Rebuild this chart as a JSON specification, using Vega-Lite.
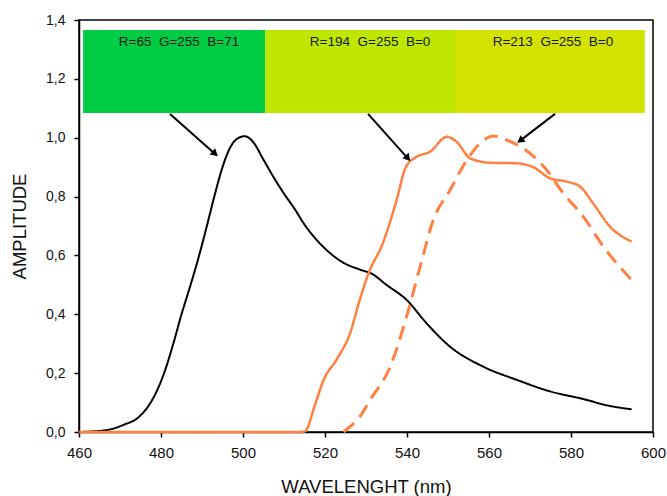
{
  "$schema": "https://vega.github.io/schema/vega-lite/v6.json",
  "width": 574,
  "height": 412,
  "autosize": "none",
  "padding": {"left": 79, "top": 20, "right": 14, "bottom": 64},
  "background": "white",
  "config": {
    "view": {"stroke": "black", "strokeWidth": 1.5},
    "font": "Liberation Sans",
    "axis": {
      "grid": false,
      "domainColor": "black",
      "domainWidth": 1.5,
      "tickColor": "black",
      "tickWidth": 1.5,
      "tickSize": 5,
      "labelFont": "Liberation Sans",
      "labelFontSize": 14,
      "labelColor": "#111",
      "labelFlush": false,
      "labelOverlap": false,
      "titleFont": "Liberation Sans",
      "titleFontSize": 18.5,
      "titleFontWeight": "normal",
      "titleColor": "#111"
    }
  },
  "datasets": {
    "curves": [
      {"s": "black", "x": 460, "y": 0},
      {"s": "black", "x": 466.5, "y": 0.006},
      {"s": "black", "x": 471, "y": 0.025},
      {"s": "black", "x": 474.5, "y": 0.05},
      {"s": "black", "x": 477, "y": 0.09},
      {"s": "black", "x": 479, "y": 0.14},
      {"s": "black", "x": 481, "y": 0.21},
      {"s": "black", "x": 483, "y": 0.3},
      {"s": "black", "x": 485, "y": 0.4},
      {"s": "black", "x": 487, "y": 0.49},
      {"s": "black", "x": 489, "y": 0.585},
      {"s": "black", "x": 491, "y": 0.69},
      {"s": "black", "x": 493, "y": 0.8},
      {"s": "black", "x": 495, "y": 0.9},
      {"s": "black", "x": 497, "y": 0.97},
      {"s": "black", "x": 499, "y": 1.0},
      {"s": "black", "x": 500.5, "y": 1.005},
      {"s": "black", "x": 502.5, "y": 0.985},
      {"s": "black", "x": 505, "y": 0.925},
      {"s": "black", "x": 507.5, "y": 0.865},
      {"s": "black", "x": 510, "y": 0.81},
      {"s": "black", "x": 512.5, "y": 0.76},
      {"s": "black", "x": 515, "y": 0.705},
      {"s": "black", "x": 517.5, "y": 0.66},
      {"s": "black", "x": 520.5, "y": 0.617},
      {"s": "black", "x": 524.5, "y": 0.575},
      {"s": "black", "x": 528.5, "y": 0.552},
      {"s": "black", "x": 531.5, "y": 0.537},
      {"s": "black", "x": 535, "y": 0.5},
      {"s": "black", "x": 539.9, "y": 0.449},
      {"s": "black", "x": 544.8, "y": 0.369},
      {"s": "black", "x": 550.5, "y": 0.29},
      {"s": "black", "x": 558.6, "y": 0.222},
      {"s": "black", "x": 566.8, "y": 0.177},
      {"s": "black", "x": 574.9, "y": 0.138},
      {"s": "black", "x": 583.0, "y": 0.112},
      {"s": "black", "x": 589, "y": 0.09},
      {"s": "black", "x": 594.8, "y": 0.077},
      {"s": "solid", "x": 460, "y": 0},
      {"s": "solid", "x": 480, "y": 0},
      {"s": "solid", "x": 500, "y": 0},
      {"s": "solid", "x": 510, "y": 0},
      {"s": "solid", "x": 513.5, "y": 0},
      {"s": "solid", "x": 515.1, "y": 0.002},
      {"s": "solid", "x": 517.5, "y": 0.09},
      {"s": "solid", "x": 519.6, "y": 0.175},
      {"s": "solid", "x": 522.9, "y": 0.248},
      {"s": "solid", "x": 526.1, "y": 0.335},
      {"s": "solid", "x": 528.5, "y": 0.45},
      {"s": "solid", "x": 530.5, "y": 0.535},
      {"s": "solid", "x": 534.2, "y": 0.645},
      {"s": "solid", "x": 537.5, "y": 0.79},
      {"s": "solid", "x": 539.7, "y": 0.9},
      {"s": "solid", "x": 542.3, "y": 0.935},
      {"s": "solid", "x": 545.6, "y": 0.952},
      {"s": "solid", "x": 549.7, "y": 1.003},
      {"s": "solid", "x": 552.1, "y": 0.986},
      {"s": "solid", "x": 555.4, "y": 0.93},
      {"s": "solid", "x": 560.2, "y": 0.915},
      {"s": "solid", "x": 566.8, "y": 0.913},
      {"s": "solid", "x": 570.8, "y": 0.9},
      {"s": "solid", "x": 574.9, "y": 0.862},
      {"s": "solid", "x": 578.9, "y": 0.851},
      {"s": "solid", "x": 582.2, "y": 0.834},
      {"s": "solid", "x": 585.4, "y": 0.777},
      {"s": "solid", "x": 589.5, "y": 0.698},
      {"s": "solid", "x": 594.8, "y": 0.647},
      {"s": "dashed", "x": 524.5, "y": 0},
      {"s": "dashed", "x": 526.1, "y": 0.018},
      {"s": "dashed", "x": 528.5, "y": 0.052},
      {"s": "dashed", "x": 531.0, "y": 0.109},
      {"s": "dashed", "x": 535.9, "y": 0.222},
      {"s": "dashed", "x": 539.9, "y": 0.392},
      {"s": "dashed", "x": 543.2, "y": 0.562},
      {"s": "dashed", "x": 546.4, "y": 0.72},
      {"s": "dashed", "x": 550.5, "y": 0.822},
      {"s": "dashed", "x": 554.6, "y": 0.924},
      {"s": "dashed", "x": 557.8, "y": 0.981},
      {"s": "dashed", "x": 561.1, "y": 1.006},
      {"s": "dashed", "x": 564.3, "y": 0.992},
      {"s": "dashed", "x": 570.0, "y": 0.947},
      {"s": "dashed", "x": 574.1, "y": 0.89},
      {"s": "dashed", "x": 578.1, "y": 0.811},
      {"s": "dashed", "x": 583.0, "y": 0.732},
      {"s": "dashed", "x": 587.9, "y": 0.63},
      {"s": "dashed", "x": 594.8, "y": 0.516}
    ],
    "boxes": [
      {"b": "g1", "x": 461, "x2": 505.4, "y": 1.084, "y2": 1.366, "tx": 484.4, "ty": 1.325, "label": "R=65\u00a0\u00a0G=255\u00a0\u00a0B=71"},
      {"b": "g2", "x": 505.4, "x2": 551.7, "y": 1.084, "y2": 1.366, "tx": 531.0, "ty": 1.325, "label": "R=194\u00a0\u00a0G=255\u00a0\u00a0B=0"},
      {"b": "g3", "x": 551.7, "x2": 598, "y": 1.084, "y2": 1.366, "tx": 575.6, "ty": 1.325, "label": "R=213\u00a0\u00a0G=255\u00a0\u00a0B=0"}
    ],
    "arrows": [
      {"x": 482.2, "y": 1.081, "x2": 493.2, "y2": 0.945, "a": 131.6},
      {"x": 530.5, "y": 1.081, "x2": 540.2, "y2": 0.93, "a": 139.2},
      {"x": 576.1, "y": 1.081, "x2": 567.6, "y2": 0.99, "a": 232.4}
    ]
  },
  "layer": [
    {
      "data": {"name": "boxes"},
      "mark": {"type": "rect"},
      "encoding": {
        "x": {"field": "x", "type": "quantitative", "scale": {"domain": [460, 600], "nice": false}, "axis": {"values": [460, 480, 500, 520, 540, 560, 580, 600], "title": "WAVELENGHT (nm)", "labelPadding": 8, "labelFontSize": 15, "titlePadding": 17}},
        "x2": {"field": "x2"},
        "y": {"field": "y", "type": "quantitative", "scale": {"domain": [0, 1.4], "nice": false}, "axis": {"values": [0, 0.2, 0.4, 0.6, 0.8, 1.0, 1.2, 1.4], "labelExpr": "replace(format(datum.value, '.1f'), '.', ',')", "title": "AMPLITUDE", "labelPadding": 9, "titlePadding": 16}},
        "y2": {"field": "y2"},
        "fill": {"field": "b", "type": "nominal", "scale": {"domain": ["g1", "g2", "g3"], "range": ["#00CC44", "#BEE600", "#D4E200"]}, "legend": null}
      }
    },
    {
      "data": {"name": "boxes"},
      "mark": {"type": "text", "fontSize": 13.5, "font": "Liberation Sans", "color": "#1a1a1a", "align": "center", "baseline": "middle"},
      "encoding": {
        "x": {"field": "tx", "type": "quantitative"},
        "y": {"field": "ty", "type": "quantitative"},
        "text": {"field": "label"}
      }
    },
    {
      "data": {"name": "curves"},
      "mark": {"type": "line", "interpolate": "monotone"},
      "encoding": {
        "x": {"field": "x", "type": "quantitative"},
        "y": {"field": "y", "type": "quantitative"},
        "detail": {"field": "s"},
        "stroke": {"field": "s", "type": "nominal", "scale": {"domain": ["black", "solid", "dashed"], "range": ["#000000", "#FF8040", "#FF8040"]}, "legend": null},
        "strokeWidth": {"field": "s", "type": "nominal", "scale": {"domain": ["black", "solid", "dashed"], "range": [2, 3, 2.5]}, "legend": null},
        "strokeDash": {"field": "s", "type": "nominal", "scale": {"domain": ["black", "solid", "dashed"], "range": [[1, 0], [1, 0], [14, 8]]}, "legend": null},
        "order": {"field": "x", "type": "quantitative"}
      }
    },
    {
      "data": {"name": "arrows"},
      "mark": {"type": "rule", "color": "black", "strokeWidth": 2},
      "encoding": {
        "x": {"field": "x", "type": "quantitative"},
        "y": {"field": "y", "type": "quantitative"},
        "x2": {"field": "x2"},
        "y2": {"field": "y2"}
      }
    },
    {
      "data": {"name": "arrows"},
      "mark": {"type": "point", "shape": "triangle-up", "filled": true, "color": "black", "size": 70, "opacity": 1},
      "encoding": {
        "x": {"field": "x2", "type": "quantitative"},
        "y": {"field": "y2", "type": "quantitative"},
        "angle": {"field": "a", "type": "quantitative", "scale": null}
      }
    }
  ]
}
